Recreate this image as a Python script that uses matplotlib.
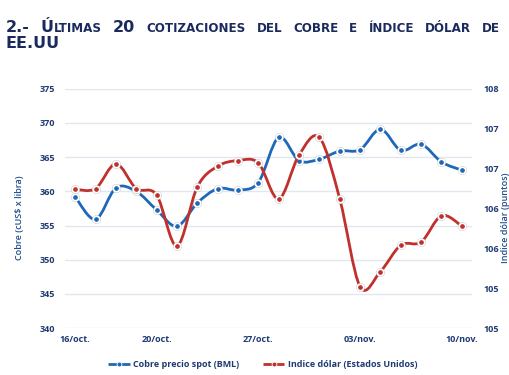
import matplotlib
matplotlib.use("Agg")
import matplotlib.pyplot as plt
import numpy as np
from matplotlib.path import Path
from matplotlib.patches import PathPatch
from matplotlib.lines import Line2D

# últimas 20 cotizaciones
dates = ["16/oct.", "17/oct.", "18/oct.", "19/oct.", "20/oct.",
         "23/oct.", "24/oct.", "25/oct.", "26/oct.", "27/oct.",
         "30/oct.", "31/oct.", "01/nov.", "02/nov.", "03/nov.",
         "06/nov.", "07/nov.", "08/nov.", "09/nov.", "10/nov."]
shown_dates = ["16/oct.", "20/oct.", "27/oct.", "03/nov.", "10/nov."]

cobre = [359.2, 355.9, 360.5, 360.0, 357.3, 354.9, 358.3, 360.4, 360.2, 361.3,
         367.9, 364.5, 364.7, 365.9, 366.1, 369.1, 366.0, 366.9, 364.3, 363.1]
dolar = [106.74, 106.75, 107.06, 106.75, 106.67, 106.03, 106.77, 107.03, 107.10, 107.07,
         106.62, 107.17, 107.39, 106.62, 105.52, 105.71, 106.04, 106.08, 106.41, 106.28]

left_ticks = [340, 345, 350, 355, 360, 365, 370, 375]
right_ticks = [105.0, 105.5, 106.0, 106.5, 107.0, 107.5, 108.0]
right_tick_labels = ["105", "105", "106", "106", "107", "107", "108"]

BLUE = "#1f68b8"
RED = "#c0302c"
NAVY = "#1b2a5e"
AXIS_NAVY = "#1f3b73"
GRID = "#e2e7ef"


def smooth_path(x, y):
    """Excel-like smoothed line: Catmull-Rom segments as cubic Beziers."""
    pts = np.column_stack([x, y]).astype(float)
    n = len(pts)
    verts = [pts[0]]
    codes = [Path.MOVETO]
    for i in range(n - 1):
        p0 = pts[max(i - 1, 0)]
        p1 = pts[i]
        p2 = pts[i + 1]
        p3 = pts[min(i + 2, n - 1)]
        verts += [p1 + (p2 - p0) / 6, p2 - (p3 - p1) / 6, p2]
        codes += [Path.CURVE4] * 3
    return Path(verts, codes)


def draw_series(ax, x, y, color):
    ax.add_patch(PathPatch(smooth_path(x, y), fill=False, edgecolor=color,
                           linewidth=2.0, capstyle="round", joinstyle="round", zorder=3))
    ax.plot(x, y, "o", linestyle="none", markersize=6.2, color="#b5b5b5",
            markeredgewidth=0, zorder=4)
    ax.plot(x, y, "o", linestyle="none", markersize=4.6, markerfacecolor=color,
            markeredgecolor="white", markeredgewidth=1.2, zorder=5)


fig = plt.figure(figsize=(5.1, 3.75), dpi=100, facecolor="white")
ax = fig.add_axes([0.1275, 0.1248, 0.798, 0.6384])
ax2 = ax.twinx()

x = np.arange(len(dates))
draw_series(ax, x, cobre, BLUE)
draw_series(ax2, x, dolar, RED)

ax.set_xlim(-0.5, len(dates) - 0.5)
ax.set_ylim(340, 375)
ax2.set_ylim(105, 108)

ax.set_yticks(left_ticks)
ax.set_yticklabels([str(v) for v in left_ticks])
ax2.set_yticks(right_ticks)
ax2.set_yticklabels(right_tick_labels)

ax.set_xticks([dates.index(d) for d in shown_dates])
ax.set_xticklabels(shown_dates)

ax.grid(axis="y", color=GRID, linewidth=1.0)
ax.set_axisbelow(True)
for a in (ax, ax2):
    for s in a.spines.values():
        s.set_visible(False)
    a.tick_params(length=0, labelsize=6.5, labelcolor=AXIS_NAVY)
    for lab in a.get_xticklabels() + a.get_yticklabels():
        lab.set_fontfamily("Open Sans")
        lab.set_fontweight("bold")
ax.tick_params(axis="y", pad=7)
ax2.tick_params(axis="y", pad=8)
ax.tick_params(axis="x", pad=5)

ax.set_ylabel("Cobre (cUS$ x libra)", fontsize=6.5, color="#1f4e8c",
              fontfamily="Open Sans", fontweight="semibold")
ax.yaxis.set_label_coords(-0.10, 0.46)
ax2.set_ylabel("Indice dólar (puntos)", fontsize=6.5, color="#1f4e8c",
               fontfamily="Open Sans", fontweight="semibold", rotation=90)
ax2.yaxis.set_label_coords(1.072, 0.46)

handles = [
    Line2D([], [], color=BLUE, linewidth=2.0, solid_capstyle="butt", marker="o",
           markersize=3.5, markerfacecolor=BLUE, markeredgecolor="white",
           markeredgewidth=0.6),
    Line2D([], [], color=RED, linewidth=2.0, solid_capstyle="butt", marker="o",
           markersize=3.5, markerfacecolor=RED, markeredgecolor="white",
           markeredgewidth=0.6),
]
leg = fig.legend(handles, ["Cobre precio spot (BML)", "Indice dólar (Estados Unidos)"],
                 loc="center", bbox_to_anchor=(0.515, 0.027), ncol=2, frameon=False,
                 numpoints=1, handlelength=2.4, handletextpad=0.35, columnspacing=2.6,
                 prop={"family": "Open Sans", "weight": "bold", "size": 6.5})
for t in leg.get_texts():
    t.set_color(AXIS_NAVY)

# title with small caps, first line justified
BIG, SMALL = 11.5, 8.6
W, H = 510.0, 375.0
line1 = [[("2.-", BIG)], [("Ú", BIG), ("LTIMAS", SMALL)], [("20", BIG)],
         [("COTIZACIONES", SMALL)], [("DEL", SMALL)], [("COBRE", SMALL)],
         [("E", SMALL)], [("ÍNDICE", SMALL)], [("DÓLAR", SMALL)], [("DE", SMALL)]]
renderer = fig.canvas.get_renderer()
words = []
for word in line1:
    parts = []
    for txt, size in word:
        t = fig.text(0, 1 - 31.5 / H, txt, fontsize=size, fontweight="bold",
                     fontfamily="DejaVu Sans", color=NAVY, va="baseline", ha="left")
        parts.append((t, t.get_window_extent(renderer).width))
    words.append(parts)
total = sum(w for parts in words for _, w in parts)
x0, x1 = 6.0, 500.0
gap = (x1 - x0 - total) / (len(words) - 1)
cur = x0
for parts in words:
    for t, w in parts:
        t.set_x(cur / W)
        cur += w
    cur += gap
fig.text(6.0 / W, 1 - 48.5 / H, "EE.UU", fontsize=BIG, fontweight="bold",
         fontfamily="DejaVu Sans", color=NAVY, va="baseline", ha="left")

fig.savefig("out.png", dpi=100, facecolor="white")
